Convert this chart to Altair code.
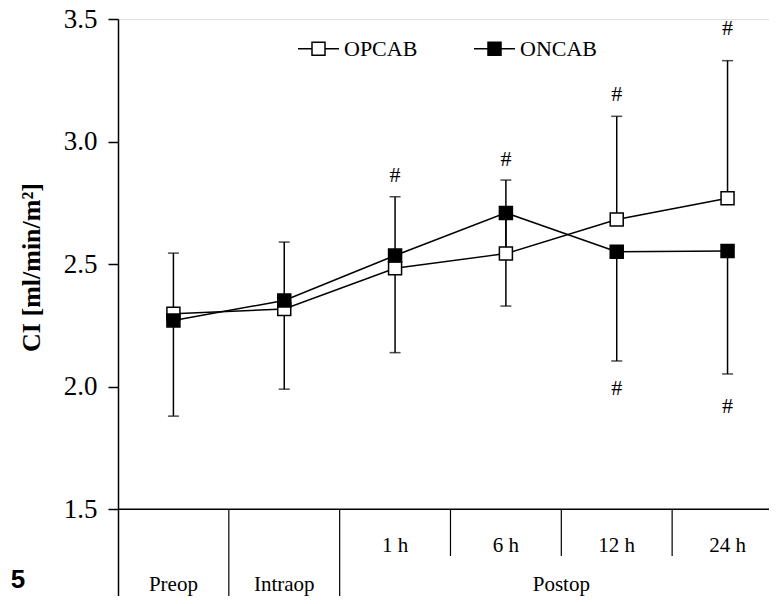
import altair as alt
import pandas as pd

# ---------------- data ----------------
categories = ["Preop", "Intraop", "1 h", "6 h", "12 h", "24 h"]
groups = ["Preop", "Intraop", "Postop", "Postop", "Postop", "Postop"]
series_names = ["OPCAB", "ONCAB"]

opcab_mean = [2.298, 2.317, 2.483, 2.543, 2.682, 2.769]
oncab_mean = [2.270, 2.352, 2.535, 2.709, 2.551, 2.554]
opcab_upper = [2.545, 2.590, 2.775, 2.843, 3.103, 3.330]   # upward SD bars
oncab_lower = [1.880, 1.990, 2.139, 2.329, 2.105, 2.052]   # downward SD bars

hash_above_cat = ["1 h", "6 h", "12 h", "24 h"]
hash_above_y = [2.864, 2.927, 3.195, 3.463]
hash_below_cat = ["12 h", "24 h"]
hash_below_y = [1.993, 1.921]

y_ticks = [1.5, 2.0, 2.5, 3.0, 3.5]
y_title = "CI [ml/min/m²]"
figure_label = "5"

# ---------------- tables ----------------
idx = {c: i for i, c in enumerate(categories)}

pts = pd.DataFrame(
    [{"cat": c, "idx": i, "series": "OPCAB", "mean": m} for i, (c, m) in enumerate(zip(categories, opcab_mean))]
    + [{"cat": c, "idx": i, "series": "ONCAB", "mean": m} for i, (c, m) in enumerate(zip(categories, oncab_mean))]
)
bars = pd.DataFrame(
    [{"idx": i, "lo": m, "hi": u, "cap": u} for i, (m, u) in enumerate(zip(opcab_mean, opcab_upper))]
    + [{"idx": i, "lo": l, "hi": m, "cap": l} for i, (m, l) in enumerate(zip(oncab_mean, oncab_lower))]
)
hashes = pd.DataFrame(
    [{"idx": idx[c], "y": y, "t": "#"} for c, y in zip(hash_above_cat, hash_above_y)]
    + [{"idx": idx[c], "y": y, "t": "#"} for c, y in zip(hash_below_cat, hash_below_y)]
)

Y_MIN = 1.1463
Y_SUB = 1.3095      # bottom of the time-point row
Y_ROW1 = 1.326      # baseline of time-point labels
Y_ROW2 = 1.167      # baseline of group labels

# separators between categories
seps = []
for i in range(len(categories) - 1):
    full = groups[i] != groups[i + 1]
    seps.append({"x": i + 0.5, "y": y_ticks[0], "y2": Y_MIN if full else Y_SUB})
seps = pd.DataFrame(seps)

row1 = pd.DataFrame([{"idx": i, "t": c} for i, (c, g) in enumerate(zip(categories, groups)) if c != g])
grp = {}
for i, g in enumerate(groups):
    grp.setdefault(g, []).append(i)
row2 = pd.DataFrame([{"idx": (v[0] + v[-1]) / 2, "t": g} for g, v in grp.items()])

base = pd.DataFrame({"y": [y_ticks[0]]})
fig = pd.DataFrame({"t": [figure_label]})

# ---------------- encodings ----------------
SERIF = "Liberation Serif"
xs = alt.Scale(domain=[-0.5, 5.374], nice=False, zero=False)
ys = alt.Scale(domain=[Y_MIN, 3.5], nice=False, zero=False)

yaxis = alt.Axis(
    values=y_ticks, format=".1f", grid=False,
    labelFont=SERIF, labelFontSize=27, labelColor="black", labelPadding=11,
    tickColor="black", tickWidth=1.5, tickSize=10,
    domainColor="black", domainWidth=1.5,
    title=y_title, titleFont=SERIF, titleFontSize=26, titleFontWeight="bold",
    titleColor="black", titleAngle=270, titleAlign="center", titleBaseline="middle",
    titleX=-87, titleY=248,
)


def X(f):
    return alt.X(f, scale=xs, axis=None)


def Y(f):
    return alt.Y(f, scale=ys, axis=yaxis)


rules = alt.Chart(bars).mark_rule(color="black", strokeWidth=1.5).encode(
    x=X("idx:Q"), y=Y("lo:Q"), y2="hi:Q")
caps = alt.Chart(bars).mark_tick(orient="horizontal", size=11, thickness=1.5, color="black").encode(
    x=X("idx:Q"), y=Y("cap:Q"))
lines = alt.Chart(pts).mark_line(color="black", strokeWidth=1.5).encode(
    x=X("idx:Q"), y=Y("mean:Q"), detail="series:N")

legend_path = "M-1,0H-0.317M0.317,0H1M-0.317,-0.317H0.317V0.317H-0.317Z"
points = alt.Chart(pts).mark_point(
    shape="square", filled=True, size=169, stroke="black", strokeWidth=1.5, opacity=1
).encode(
    x=X("idx:Q"), y=Y("mean:Q"),
    fill=alt.Fill("series:N", scale=alt.Scale(domain=series_names, range=["white", "black"]),
                  legend=alt.Legend(orient="none", legendX=179, legendY=8, direction="horizontal",
                                    title=None, symbolType=legend_path, symbolSize=1681,
                                    symbolStrokeColor="black", symbolStrokeWidth=1.5,
                                    labelFont=SERIF, labelFontSize=22, labelColor="black",
                                    labelOffset=4, columnPadding=53, padding=0, symbolOffset=0)),
    order=alt.Order("ord:Q"),
).transform_calculate(ord="datum.series == 'OPCAB' ? 0 : 1")

hash_text = alt.Chart(hashes).mark_text(font=SERIF, fontSize=22, color="black", baseline="middle").encode(
    x=X("idx:Q"), y=Y("y:Q"), text="t:N")

base_rule = alt.Chart(base).mark_rule(color="black", strokeWidth=1.5).encode(y=Y("y:Q"))
sep_rules = alt.Chart(seps).mark_rule(color="black", strokeWidth=1.2).encode(
    x=X("x:Q"), y=Y("y:Q"), y2="y2:Q")
row1_text = alt.Chart(row1).mark_text(font=SERIF, fontSize=21, color="black", baseline="alphabetic").encode(
    x=X("idx:Q"), y=alt.Y("y:Q", scale=ys, axis=yaxis), text="t:N").transform_calculate(y=str(Y_ROW1))
row2_text = alt.Chart(row2).mark_text(font=SERIF, fontSize=21, color="black", baseline="alphabetic").encode(
    x=X("idx:Q"), y=alt.Y("y:Q", scale=ys, axis=yaxis), text="t:N").transform_calculate(y=str(Y_ROW2))
fig_text = alt.Chart(fig).mark_text(font="Liberation Sans", fontSize=26, fontWeight="bold", color="black",
                                    baseline="alphabetic", align="center").encode(
    x=alt.value(-100), y=alt.value(569), text="t:N")

chart = alt.layer(
    base_rule, sep_rules, rules, caps, lines, points, hash_text, row1_text, row2_text, fig_text
).properties(
    width=651, height=577,
    autosize=alt.AutoSizeParams(type="none"),
    padding={"left": 110, "top": 11, "right": 0, "bottom": 0},
).configure_view(stroke=None).configure(background="white")

chart.save("out.html", embed_options={"renderer": "svg", "actions": False})
